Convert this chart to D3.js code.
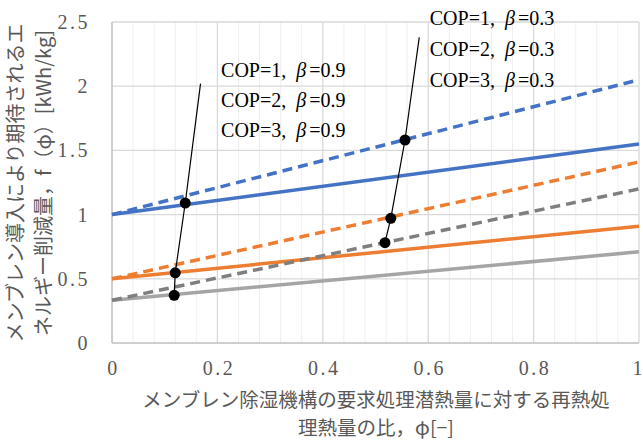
<!DOCTYPE html>
<html>
<head>
<meta charset="utf-8">
<script src="https://cdn.jsdelivr.net/npm/d3@7"></script>
<style>
  body { margin: 0; background: #fff; }
  svg { display: block; }
</style>
</head>
<body>
<div id="chart"></div>
<script>
// x values (phi) at both ends of each line
const phi = [0, 1];

// f(phi) for each case
const cop1b09 = [1.00, 1.55];
const cop2b09 = [0.50, 0.91];
const cop3b09 = [0.333, 0.71];
const cop1b03 = [1.00, 2.05];
const cop2b03 = [0.50, 1.41];
const cop3b03 = [0.333, 1.20];

// leader line through the marked points (beta = 0.9 and beta = 0.3)
const lead09Phi = [0.168, 0.139, 0.120, 0.118];
const lead09Val = [2.02, 1.09, 0.547, 0.371];
const lead03Phi = [0.583, 0.556, 0.529, 0.518];
const lead03Val = [2.38, 1.581, 0.971, 0.781];

// annotation labels
const labels09 = ["COP=1", "COP=2", "COP=3"];
const labels03 = ["COP=1", "COP=2", "COP=3"];
const lab09Phi = 0.207, lab09Val = [2.126, 1.893, 1.659];
const lab03Phi = 0.603, lab03Val = [2.531, 2.29, 2.048];

const xTicks = [0, 0.2, 0.4, 0.6, 0.8, 1];
const yTicks = [0, 0.5, 1, 1.5, 2, 2.5];

const margin = { top: 22, right: 4, bottom: 98, left: 112 },
    width = 643 - margin.left - margin.right,
    height = 441 - margin.top - margin.bottom;

const svg = d3.select("#chart")
    .append("svg")
    .attr("width", 643)
    .attr("height", 441);

svg.append("rect").attr("width", 643).attr("height", 441).attr("fill", "#fff");

const g = svg.append("g")
    .attr("transform", `translate(${margin.left}, ${margin.top})`);

const x = d3.scaleLinear().domain([0, 1]).range([0, 527]);
const y = d3.scaleLinear().domain([0, 2.5]).range([321, 0]);

// minor vertical grid every 0.04
g.append("g")
  .selectAll("line")
  .data(d3.range(1, 25).map(i => i * 0.04).filter(v => Math.abs(v * 5 - Math.round(v * 5)) > 1e-6))
  .enter().append("line")
    .attr("x1", d => x(d)).attr("x2", d => x(d))
    .attr("y1", 0).attr("y2", y(0))
    .attr("stroke", "#efefef").attr("stroke-width", 1);

// major vertical grid
g.append("g")
  .selectAll("line")
  .data(xTicks.slice(1))
  .enter().append("line")
    .attr("x1", d => x(d)).attr("x2", d => x(d))
    .attr("y1", 0).attr("y2", y(0))
    .attr("stroke", "#d9d9d9").attr("stroke-width", 1.3);

// horizontal grid
g.append("g")
  .selectAll("line")
  .data(yTicks.slice(1))
  .enter().append("line")
    .attr("x1", 0).attr("x2", x(1))
    .attr("y1", d => y(d)).attr("y2", d => y(d))
    .attr("stroke", "#d9d9d9").attr("stroke-width", 1.3);

// axes lines
g.append("line").attr("x1", 0).attr("x2", 0).attr("y1", 0).attr("y2", y(0))
  .attr("stroke", "#bfbfbf").attr("stroke-width", 1.5);
g.append("line").attr("x1", 0).attr("x2", x(1)).attr("y1", y(0)).attr("y2", y(0))
  .attr("stroke", "#bfbfbf").attr("stroke-width", 1.5);

// tick labels
const tickFont = "'Liberation Serif', 'DejaVu Serif', serif";
g.append("g")
    .attr("transform", `translate(0, ${y(0)})`)
    .call(d3.axisBottom(x).tickValues(xTicks).tickFormat(d3.format("")).tickSize(0).tickPadding(18))
    .call(a => a.select(".domain").remove())
    .selectAll("text")
      .style("font-family", tickFont).style("font-size", "20px")
      .attr("letter-spacing", d => d === 1 ? 0 : 2.5)
      .attr("dx", d => d === 1 ? -2 : 1)
      .attr("fill", "#595959");

g.append("g")
    .call(d3.axisLeft(y).tickValues(yTicks).tickFormat(d3.format("")).tickSize(0).tickPadding(22))
    .call(a => a.select(".domain").remove())
    .selectAll("text")
      .style("font-family", tickFont).style("font-size", "20px")
      .attr("letter-spacing", 2.5).attr("fill", "#595959");

// series lines
const line = d3.line().x(d => x(d[0])).y(d => y(d[1]));
const series = [
  { v: cop3b09, c: "#a5a5a5", dash: null },
  { v: cop2b09, c: "#ed7d31", dash: null },
  { v: cop1b09, c: "#4472c4", dash: null },
  { v: cop3b03, c: "#7f7f7f", dash: "10,6" },
  { v: cop2b03, c: "#ed7d31", dash: "10,6" },
  { v: cop1b03, c: "#4472c4", dash: "10,6" }
];
series.forEach(s => {
  g.append("path")
    .datum(phi.map((p, i) => [p, s.v[i]]))
    .attr("d", line)
    .attr("fill", "none")
    .attr("stroke", s.c)
    .attr("stroke-width", 3.5)
    .attr("stroke-dasharray", s.dash);
});

// leader lines and markers
[[lead09Phi, lead09Val], [lead03Phi, lead03Val]].forEach(([ps, vs]) => {
  const pts = ps.map((p, i) => [p, vs[i]]);
  g.append("path")
    .datum(pts)
    .attr("d", line)
    .attr("fill", "none")
    .attr("stroke", "#000")
    .attr("stroke-width", 1.2);
  g.selectAll(null)
    .data(pts.slice(1))
    .enter().append("circle")
      .attr("cx", d => x(d[0]))
      .attr("cy", d => y(d[1]))
      .attr("r", 5.5)
      .attr("fill", "#000");
});

// annotations
function annotate(texts, p, vals, beta) {
  texts.forEach((t, i) => {
    const tx = g.append("text")
      .attr("x", x(p))
      .attr("y", y(vals[i]))
      .attr("dy", "0.35em")
      .style("font-family", "'Liberation Serif', serif")
      .style("font-size", "20px")
      .attr("fill", "#000");
    tx.append("tspan").text(t + ",");
    tx.append("tspan").attr("dx", 10).style("font-style", "italic").text("β");
    tx.append("tspan").attr("dx", 3).text("=" + beta);
  });
}
annotate(labels09, lab09Phi, lab09Val, "0.9");
annotate(labels03, lab03Phi, lab03Val, "0.3");

// axis titles
const jp = "'Noto Sans CJK JP', sans-serif";
svg.append("text")
    .attr("x", 376).attr("y", 407)
    .attr("text-anchor", "middle")
    .style("font-family", jp)
    .style("font-size", "19.5px")
    .attr("fill", "#595959")
    .text("メンブレン除湿機構の要求処理潜熱量に対する再熱処");
svg.append("text")
    .attr("x", 376).attr("y", 435)
    .attr("text-anchor", "middle")
    .style("font-family", jp)
    .style("font-size", "19.5px")
    .attr("fill", "#595959")
    .text("理熱量の比，φ[−]");

const yt = svg.append("text")
    .attr("transform", "translate(0, 183) rotate(-90)")
    .attr("text-anchor", "middle")
    .style("font-family", jp)
    .style("font-size", "20px")
    .attr("fill", "#595959");
yt.append("tspan").attr("x", 0).attr("y", 23).text("メンブレン導入により期待されるエ");
yt.append("tspan").attr("x", 0).attr("y", 51).text("ネルギー削減量，f（φ）[kWh/kg]");
</script>
</body>
</html>
